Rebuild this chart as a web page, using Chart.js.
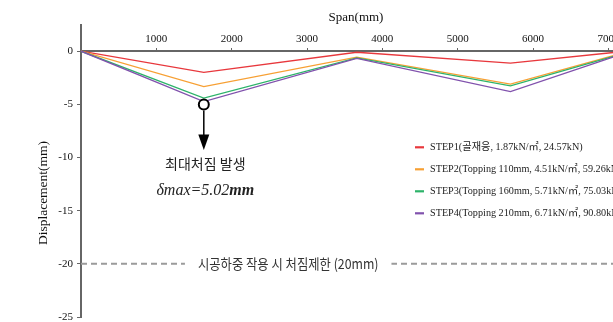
<!DOCTYPE html>
<html>
<head>
<meta charset="utf-8">
<script src="https://cdn.jsdelivr.net/npm/chart.js@4.4.1/dist/chart.umd.min.js"></script>
<style>
  html, body { margin: 0; padding: 0; overflow: hidden; background: #fff; }
  canvas { display: block; }
</style>
</head>
<body>
<canvas id="chart" width="638" height="324"></canvas>
<script>
// Span positions along the beam (mm)
const spanPositions = [0, 1630, 3660, 5700, 7100];

// Vertical displacement at each position (mm) per construction step
const step1 = [0, -2.0, -0.1, -1.13, -0.1];
const step2 = [0, -3.33, -0.56, -3.1, -0.35];
const step3 = [0, -4.42, -0.63, -3.26, -0.42];
const step4 = [0, -4.75, -0.68, -3.8, -0.47];

const stepLabels = [
  'STEP1(골재응, 1.87kN/㎡, 24.57kN)',
  'STEP2(Topping 110mm, 4.51kN/㎡, 59.26kN)',
  'STEP3(Topping 160mm, 5.71kN/㎡, 75.03kN)',
  'STEP4(Topping 210mm, 6.71kN/㎡, 90.80kN)'
];
const stepColors = ['#e8383d', '#f7a034', '#2db36a', '#8152ad'];

// Maximum deflection marker and construction-load deflection limit
const maxDeflectionX = 1630;
const maxDeflectionValue = -5.02;
const deflectionLimit = -20;
const limitLabelX = 2750;

const xTickValues = [1000, 2000, 3000, 4000, 5000, 6000, 7000];
const yTickValues = [0, -5, -10, -15, -20, -25];

const serif = '"Liberation Serif", "Noto Sans CJK KR", serif';
const sansKR = '"Noto Sans CJK KR", "Noto Sans", sans-serif';

function toPoints(values) {
  return spanPositions.map((x, i) => ({ x: x, y: values[i] }));
}

const stepSeries = [step1, step2, step3, step4];

const datasets = stepSeries.map((vals, i) => ({
  label: stepLabels[i],
  data: toPoints(vals),
  borderColor: stepColors[i],
  backgroundColor: stepColors[i],
  borderWidth: 1.3,
  pointRadius: 0,
  tension: 0,
  order: 4 - i
}));

datasets.push({
  label: 'limit',
  data: [{ x: 0, y: deflectionLimit }, { x: 7300, y: deflectionLimit }],
  borderColor: '#9b9b9b',
  borderWidth: 2,
  borderDash: [6, 4],
  pointRadius: 0,
  order: 10
});

datasets.push({
  label: 'max',
  data: [{ x: maxDeflectionX, y: maxDeflectionValue }],
  showLine: false,
  pointRadius: 5,
  pointBorderWidth: 2,
  pointBorderColor: '#000',
  pointBackgroundColor: '#fff',
  order: 0
});

const overlayPlugin = {
  id: 'overlay',
  afterDatasetsDraw(chart) {
    const ctx = chart.ctx;
    const xs = chart.scales.x, ys = chart.scales.y;

    // limit label on a white band over the dashed line
    const ly = ys.getPixelForValue(deflectionLimit);
    const lx = xs.getPixelForValue(limitLabelX);
    ctx.save();
    ctx.font = '14px ' + sansKR;
    const limitText = '시공하중 작용 시 처짐제한 (20mm)';
    const sx = 0.88;
    const tw = ctx.measureText(limitText).width * sx;
    ctx.fillStyle = '#fff';
    ctx.fillRect(lx - tw / 2 - 13, ly - 8, tw + 26, 16);
    ctx.translate(lx, ly);
    ctx.scale(sx, 1);
    ctx.fillStyle = '#333';
    ctx.textAlign = 'center';
    ctx.textBaseline = 'middle';
    ctx.fillText(limitText, 0, 0);
    ctx.restore();

    // arrow and text under the maximum deflection marker
    const pt = chart.getDatasetMeta(5).data[0];
    const px = pt.x, py = pt.y;
    ctx.save();
    ctx.strokeStyle = '#000';
    ctx.fillStyle = '#000';
    ctx.lineWidth = 1.5;
    ctx.beginPath();
    ctx.moveTo(px, py + 6);
    ctx.lineTo(px, py + 32);
    ctx.stroke();
    ctx.beginPath();
    ctx.moveTo(px - 5.5, py + 30);
    ctx.lineTo(px + 5.5, py + 30);
    ctx.lineTo(px, py + 45.5);
    ctx.closePath();
    ctx.fill();

    ctx.textAlign = 'center';
    ctx.textBaseline = 'middle';
    ctx.fillStyle = '#222';
    ctx.font = '14px ' + sansKR;
    ctx.fillText('최대처짐 발생', px + 1.5, py + 59);

    const a = 'δmax=5.02';
    ctx.font = 'italic bold 16px ' + serif;
    const bw = ctx.measureText('mm').width;
    ctx.font = 'italic 16px ' + serif;
    const aw = ctx.measureText(a).width;
    const startX = px + 1.5 - (aw + bw) / 2;
    ctx.textAlign = 'left';
    ctx.fillText(a, startX, py + 86);
    ctx.font = 'italic bold 16px ' + serif;
    ctx.fillText('mm', startX + aw, py + 86);
    ctx.restore();

    // series legend
    ctx.save();
    ctx.font = '10.2px ' + serif;
    ctx.textBaseline = 'middle';
    ctx.textAlign = 'left';
    for (let i = 0; i < 4; i++) {
      const y = 147.3 + i * 22;
      ctx.strokeStyle = stepColors[i];
      ctx.lineWidth = 2.2;
      ctx.beginPath();
      ctx.moveTo(415, y);
      ctx.lineTo(424, y);
      ctx.stroke();
      ctx.fillStyle = '#222';
      ctx.fillText(stepLabels[i], 430, y);
    }
    ctx.restore();

    // vertical axis title
    ctx.save();
    ctx.translate(43, 193);
    ctx.rotate(-Math.PI / 2);
    ctx.font = '13.5px ' + serif;
    ctx.fillStyle = '#111';
    ctx.textAlign = 'center';
    ctx.textBaseline = 'middle';
    ctx.fillText('Displacement(mm)', 0, 0);
    ctx.restore();
  }
};

new Chart(document.getElementById('chart'), {
  type: 'line',
  data: { datasets: datasets },
  options: {
    responsive: false,
    animation: false,
    events: [],
    layout: { padding: { left: 0, right: 1, top: 8, bottom: 3.5 } },
    plugins: {
      legend: { display: false },
      tooltip: { enabled: false },
      title: {
        display: true,
        text: 'Span(mm)',
        fullSize: false,
        color: '#111',
        font: { family: serif, size: 13, weight: 'normal' },
        padding: { top: 2, bottom: -1 }
      }
    },
    scales: {
      x: {
        type: 'linear',
        position: { y: 0 },
        min: 0,
        max: 7300,
        afterBuildTicks: s => { s.ticks = xTickValues.map(v => ({ value: v })); },
        afterFit: s => { s.paddingLeft = 0; s.paddingRight = 0; s.paddingTop = 0; s.paddingBottom = 0; },
        ticks: {
          padding: -14.6,
          color: '#111',
          font: { family: serif, size: 11 },
          maxRotation: 0,
          callback: v => String(v)
        },
        grid: { drawOnChartArea: false, drawTicks: true, tickLength: -4, color: '#666', lineWidth: 1 },
        border: { display: true, color: '#666', width: 2 }
      },
      y: {
        type: 'linear',
        min: -25,
        max: 2.5,
        afterBuildTicks: s => { s.ticks = yTickValues.map(v => ({ value: v })); },
        afterFit: s => { s.width = 81; s.paddingTop = 0; s.paddingBottom = 0; },
        ticks: {
          padding: 4,
          color: '#111',
          font: { family: serif, size: 11 },
          callback: v => String(v)
        },
        grid: { drawOnChartArea: false, drawTicks: true, tickLength: 4, color: '#666', lineWidth: 1 },
        border: { display: true, color: '#666', width: 2 }
      }
    }
  },
  plugins: [overlayPlugin]
});
</script>
</body>
</html>
